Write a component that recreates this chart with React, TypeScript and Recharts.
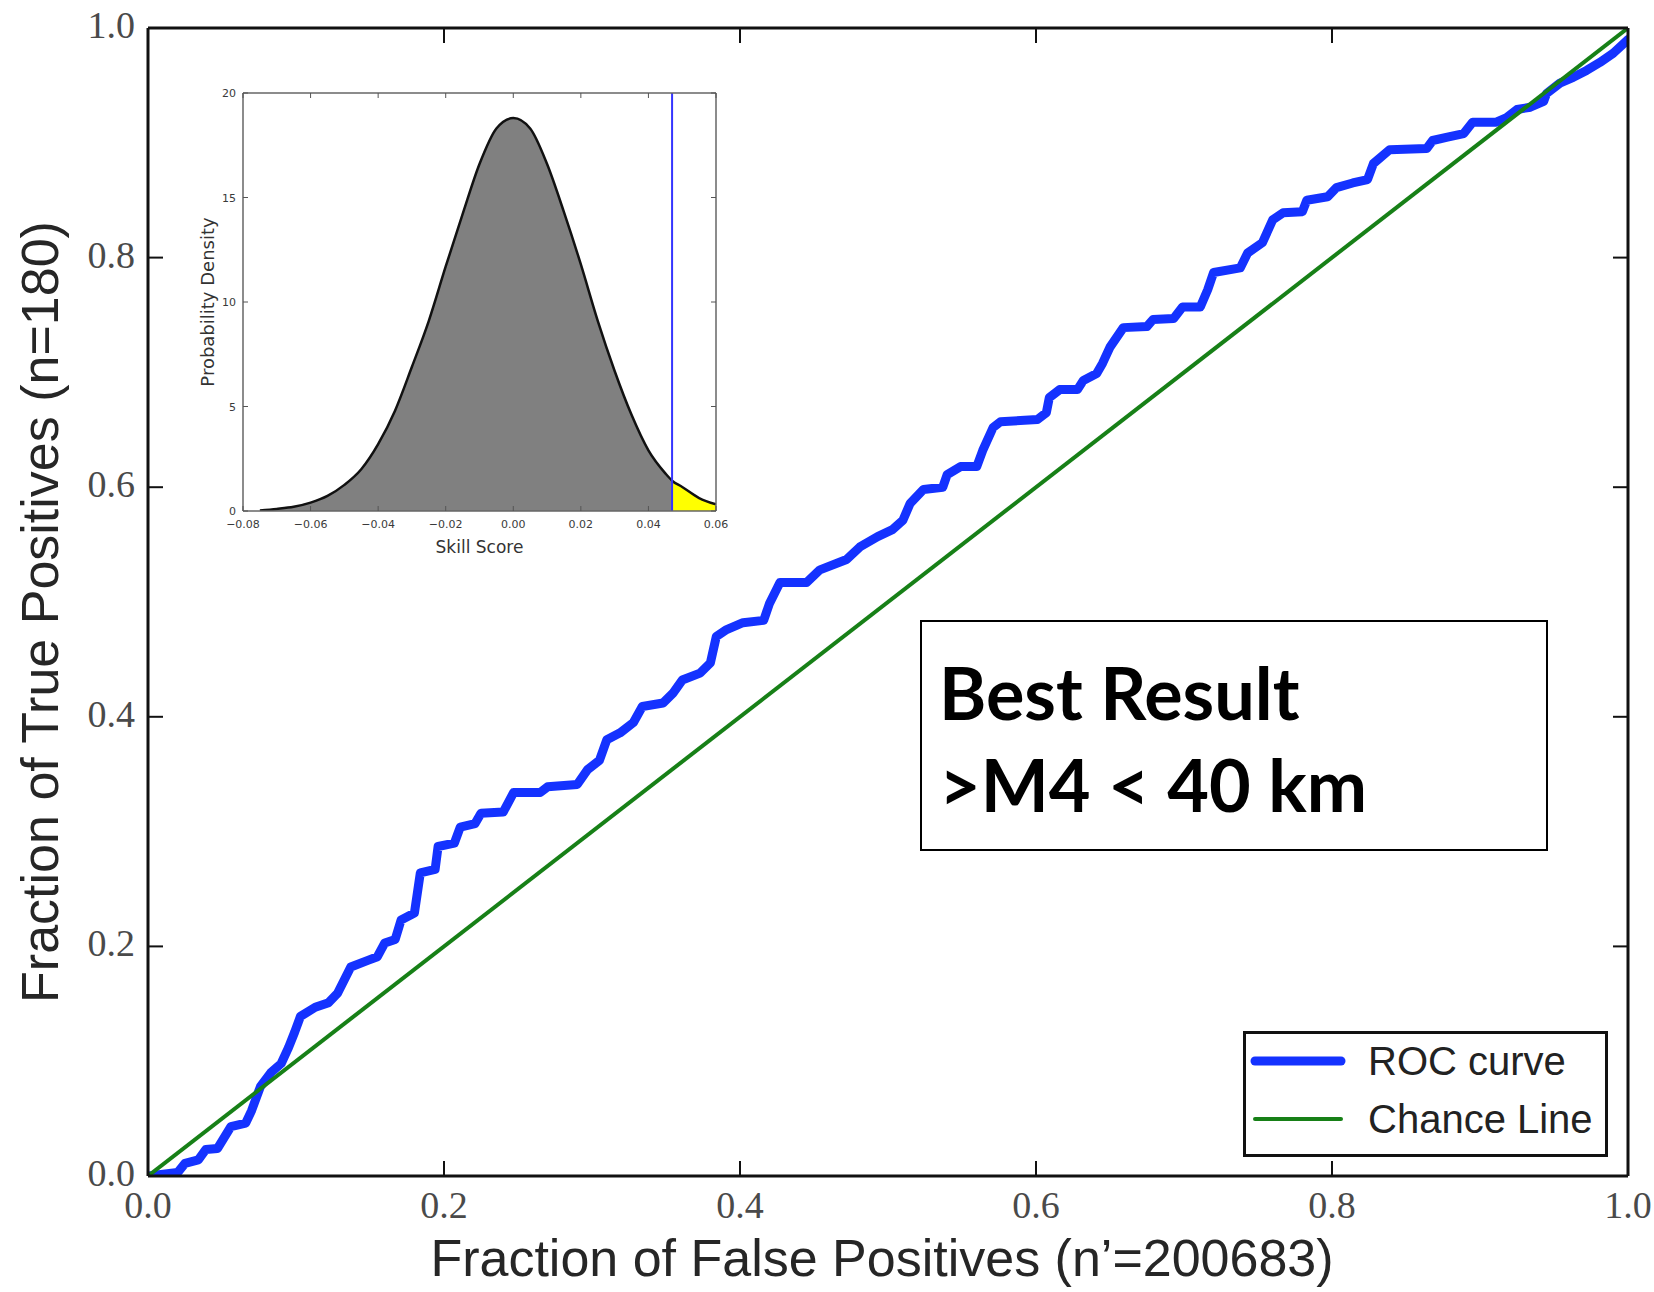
import React from 'react';
import { ComposedChart, Line, Area, XAxis, YAxis, Legend, ReferenceLine } from 'recharts';

const SERIF = '"Liberation Serif", "Times New Roman", serif';
const SANS = '"Liberation Sans", Arial, sans-serif';
const INSET_FONT = '"DejaVu Sans", "Liberation Sans", sans-serif';

// ---------- main ROC chart data ----------
const axisTicks = [0, 0.2, 0.4, 0.6, 0.8, 1.0];

const rocFpr = [
  0, 0.020, 0.025, 0.034, 0.039, 0.047, 0.056, 0.066, 0.070, 0.076,
  0.083, 0.090, 0.095, 0.099, 0.103, 0.113, 0.122, 0.128, 0.137, 0.149,
  0.155, 0.160, 0.167, 0.171, 0.180, 0.184, 0.194, 0.196, 0.207, 0.211,
  0.221, 0.225, 0.240, 0.247, 0.265, 0.270, 0.290, 0.297, 0.305, 0.310,
  0.319, 0.328, 0.334, 0.348, 0.355, 0.361, 0.373, 0.380, 0.384, 0.391,
  0.402, 0.416, 0.420, 0.427, 0.445, 0.454, 0.472, 0.481, 0.493, 0.503,
  0.510, 0.515, 0.524, 0.537, 0.540, 0.549, 0.560, 0.564, 0.571, 0.576,
  0.601, 0.607, 0.609, 0.616, 0.628, 0.632, 0.641, 0.645, 0.650, 0.659,
  0.675, 0.679, 0.693, 0.699, 0.711, 0.716, 0.720, 0.738, 0.743, 0.753,
  0.760, 0.767, 0.780, 0.783, 0.797, 0.803, 0.814, 0.824, 0.828, 0.839,
  0.864, 0.868, 0.878, 0.889, 0.895, 0.911, 0.918, 0.925, 0.934, 0.943,
  0.945, 0.954, 0.963, 0.972, 0.981, 0.990, 1.0,
];

const rocTpr = [
  0, 0.003, 0.011, 0.014, 0.023, 0.024, 0.043, 0.046, 0.057, 0.078,
  0.090, 0.098, 0.112, 0.125, 0.139, 0.147, 0.151, 0.159, 0.182, 0.188,
  0.191, 0.203, 0.206, 0.223, 0.229, 0.264, 0.267, 0.287, 0.290, 0.304,
  0.307, 0.316, 0.317, 0.334, 0.334, 0.339, 0.341, 0.354, 0.362, 0.380,
  0.386, 0.395, 0.409, 0.412, 0.421, 0.432, 0.438, 0.447, 0.470, 0.476,
  0.482, 0.484, 0.499, 0.517, 0.517, 0.528, 0.537, 0.548, 0.557, 0.563,
  0.571, 0.586, 0.598, 0.600, 0.611, 0.618, 0.618, 0.632, 0.652, 0.657,
  0.659, 0.665, 0.678, 0.685, 0.685, 0.693, 0.699, 0.708, 0.722, 0.739,
  0.740, 0.746, 0.747, 0.757, 0.757, 0.772, 0.787, 0.791, 0.804, 0.813,
  0.833, 0.839, 0.840, 0.850, 0.853, 0.861, 0.865, 0.868, 0.882, 0.894,
  0.895, 0.902, 0.905, 0.908, 0.918, 0.918, 0.922, 0.929, 0.931, 0.936,
  0.943, 0.952, 0.957, 0.963, 0.970, 0.978, 0.990,
];

const chanceFpr = [0, 1];
const chanceTpr = [0, 1];

const seriesNames = ['ROC curve', 'Chance Line'];
const seriesColors = ['#1432ff', '#178017'];
const seriesWidths = [9, 4];

const xTitle = "Fraction of False Positives (n\u2019=200683)";
const yTitle = 'Fraction of True Positives (n=180)';
const boxLines = ['Best Result', '>M4 < 40 km'];

// ---------- inset data ----------
const skillScores = [
  -0.075, -0.07, -0.065, -0.06, -0.055, -0.05, -0.045, -0.04, -0.035, -0.03,
  -0.025, -0.02, -0.015, -0.01, -0.005, 0, 0.005, 0.01, 0.015, 0.02,
  0.025, 0.03, 0.035, 0.04, 0.045, 0.047, 0.05, 0.055, 0.06,
];
const densities = [
  0.03, 0.1, 0.2, 0.4, 0.72, 1.25, 2.0, 3.2, 4.8, 6.9,
  9.1, 11.7, 14.2, 16.6, 18.3, 18.8, 18.3, 16.6, 14.3, 11.8,
  9.1, 6.7, 4.6, 2.9, 1.8, 1.45, 1.15, 0.62, 0.32,
];
const observedSkill = 0.047;
const insetXTicks = [-0.08, -0.06, -0.04, -0.02, 0, 0.02, 0.04, 0.06];
const insetYTicks = [0, 5, 10, 15, 20];

const rocData = rocFpr.map((x, i) => ({ x, y: rocTpr[i] }));
const chanceData = chanceFpr.map((x, i) => ({ x, y: chanceTpr[i] }));
const densityData = skillScores.map((x, i) => ({ x, y: densities[i] }));
const nullData = densityData.filter((d) => d.x <= observedSkill);
const tailData = densityData.filter((d) => d.x >= observedSkill);

// ---------- main ticks ----------
const TICK_LEN = 15;
const tickLabelStyle = { fontFamily: SERIF, fontSize: 38, fill: '#4a4a4a' };

function BottomTick(props: any) {
  const { x, y, payload } = props;
  return (
    <g>
      <line x1={x} x2={x} y1={y} y2={y - TICK_LEN} stroke="#111" strokeWidth={2} />
      <text x={x} y={y + 42} textAnchor="middle" {...tickLabelStyle}>
        {Number(payload.value).toFixed(1)}
      </text>
    </g>
  );
}
function TopTick(props: any) {
  const { x, y } = props;
  return <line x1={x} x2={x} y1={y} y2={y + TICK_LEN} stroke="#111" strokeWidth={2} />;
}
function LeftTick(props: any) {
  const { x, y, payload } = props;
  return (
    <g>
      <line x1={x} x2={x + TICK_LEN} y1={y} y2={y} stroke="#111" strokeWidth={2} />
      <text x={x - 13} y={y + 10} textAnchor="end" {...tickLabelStyle}>
        {Number(payload.value).toFixed(1)}
      </text>
    </g>
  );
}
function RightTick(props: any) {
  const { x, y } = props;
  return <line x1={x} x2={x - TICK_LEN} y1={y} y2={y} stroke="#111" strokeWidth={2} />;
}

// ---------- inset ticks ----------
const INSET_TICK = 5;
const insetLabelStyle = { fontFamily: INSET_FONT, fontSize: 11, fill: '#3a3a3a' };
const fmtSkill = (v: number) => (v < 0 ? '\u2212' + Math.abs(v).toFixed(2) : v.toFixed(2));

function InsetBottomTick(props: any) {
  const { x, y, payload } = props;
  return (
    <g>
      <line x1={x} x2={x} y1={y} y2={y - INSET_TICK} stroke="#555" strokeWidth={1} />
      <text x={x} y={y + 17} textAnchor="middle" {...insetLabelStyle}>
        {fmtSkill(Number(payload.value))}
      </text>
    </g>
  );
}
function InsetTopTick(props: any) {
  const { x, y } = props;
  return <line x1={x} x2={x} y1={y} y2={y + INSET_TICK} stroke="#555" strokeWidth={1} />;
}
function InsetLeftTick(props: any) {
  const { x, y, payload } = props;
  return (
    <g>
      <line x1={x} x2={x + INSET_TICK} y1={y} y2={y} stroke="#555" strokeWidth={1} />
      <text x={x - 7} y={y + 4} textAnchor="end" {...insetLabelStyle}>
        {String(payload.value)}
      </text>
    </g>
  );
}
function InsetRightTick(props: any) {
  const { x, y } = props;
  return <line x1={x} x2={x - INSET_TICK} y1={y} y2={y} stroke="#555" strokeWidth={1} />;
}

// ---------- legend ----------
function renderLegend(props: any) {
  const items = [...(props.payload || [])].sort(
    (a: any, b: any) => seriesNames.indexOf(a.value) - seriesNames.indexOf(b.value)
  );
  return (
    <div
      style={{
        width: 365,
        height: 126,
        border: '3px solid #111',
        boxSizing: 'border-box',
        background: '#fff',
      }}
    >
      <svg width={359} height={120} style={{ display: 'block' }}>
        {items.map((it: any, i: number) => {
          const idx = seriesNames.indexOf(it.value);
          const cy = 27 + i * 58;
          return (
            <g key={it.value}>
              <line
                x1={9}
                x2={95}
                y1={cy}
                y2={cy}
                stroke={it.color}
                strokeWidth={seriesWidths[idx]}
                strokeLinecap="round"
              />
              <text x={122} y={cy + 14} fontFamily={SANS} fontSize={40} fill="#222">
                {it.value}
              </text>
            </g>
          );
        })}
      </svg>
    </div>
  );
}

const frameLine = { stroke: '#111', strokeWidth: 3 };
const insetFrame = { stroke: '#666', strokeWidth: 1.5 };

function InsetChart() {
  return (
    <div style={{ position: 'absolute', left: 180, top: 70, width: 556, height: 500 }}>
      <ComposedChart width={556} height={500} margin={{ top: 22, right: 19, bottom: 58, left: 62 }}>
        <XAxis
          dataKey="x"
          type="number"
          domain={[-0.08, 0.06]}
          ticks={insetXTicks}
          interval={0}
          allowDataOverflow
          height={1}
          tickSize={0}
          tickMargin={0}
          tickLine={false}
          axisLine={insetFrame}
          tick={InsetBottomTick}
          label={{
            value: 'Skill Score',
            content: (p: any) => {
              const vb = p.viewBox || { x: 63, y: 441, width: 473 };
              return (
                <text
                  x={vb.x + vb.width / 2}
                  y={vb.y + 42}
                  textAnchor="middle"
                  fontFamily={INSET_FONT}
                  fontSize={17}
                  fill="#333"
                >
                  Skill Score
                </text>
              );
            },
          }}
        />
        <XAxis
          xAxisId="top"
          orientation="top"
          dataKey="x"
          type="number"
          domain={[-0.08, 0.06]}
          ticks={insetXTicks}
          interval={0}
          allowDataOverflow
          height={1}
          tickSize={0}
          tickMargin={0}
          tickLine={false}
          axisLine={insetFrame}
          tick={InsetTopTick}
        />
        <YAxis
          type="number"
          domain={[0, 20]}
          ticks={insetYTicks}
          interval={0}
          allowDataOverflow
          width={1}
          tickSize={0}
          tickMargin={0}
          tickLine={false}
          axisLine={insetFrame}
          tick={InsetLeftTick}
          label={{
            value: 'Probability Density',
            content: (p: any) => {
              const vb = p.viewBox || { x: 62, y: 23, width: 1, height: 418 };
              const cx = vb.x + (vb.width || 0) - 29;
              const cy = vb.y + vb.height / 2;
              return (
                <text
                  x={cx}
                  y={cy}
                  transform={`rotate(-90 ${cx} ${cy})`}
                  textAnchor="middle"
                  fontFamily={INSET_FONT}
                  fontSize={18}
                  fill="#333"
                >
                  Probability Density
                </text>
              );
            },
          }}
        />
        <YAxis
          yAxisId="right"
          orientation="right"
          type="number"
          domain={[0, 20]}
          ticks={insetYTicks}
          interval={0}
          allowDataOverflow
          width={1}
          tickSize={0}
          tickMargin={0}
          tickLine={false}
          axisLine={insetFrame}
          tick={InsetRightTick}
        />
        <Area
          data={nullData}
          dataKey="y"
          type="monotone"
          fill="#808080"
          fillOpacity={1}
          stroke="none"
          isAnimationActive={false}
          dot={false}
          activeDot={false}
        />
        <Area
          data={tailData}
          dataKey="y"
          type="monotone"
          fill="#ffff00"
          fillOpacity={1}
          stroke="none"
          isAnimationActive={false}
          dot={false}
          activeDot={false}
        />
        <Line
          data={densityData}
          dataKey="y"
          xAxisId="top"
          yAxisId="right"
          type="monotone"
          stroke="#111"
          strokeWidth={2.5}
          dot={false}
          activeDot={false}
          isAnimationActive={false}
        />
        <ReferenceLine x={observedSkill} stroke="#3535ff" strokeWidth={2} ifOverflow="visible" />
      </ComposedChart>
    </div>
  );
}

function TextBox() {
  return (
    <div
      style={{
        position: 'absolute',
        left: 920,
        top: 620,
        width: 628,
        height: 231,
        border: '2px solid #000',
        boxSizing: 'border-box',
        background: '#fff',
      }}
    >
      <svg width={624} height={227} style={{ display: 'block' }}>
        {boxLines.map((t, i) => (
          <text
            key={t}
            x={17}
            y={98 + i * 92}
            fontFamily="Lato, 'Open Sans', sans-serif"
            fontWeight={700}
            fontSize={72}
            fill="#000"
          >
            {t}
          </text>
        ))}
      </svg>
    </div>
  );
}

export default function App() {
  return (
    <div style={{ position: 'absolute', left: 0, top: 0, width: 1654, height: 1292, background: '#fff' }}>
      <ComposedChart width={1654} height={1292} margin={{ top: 27, right: 25, bottom: 115, left: 147 }}>
        <XAxis
          dataKey="x"
          type="number"
          domain={[0, 1]}
          ticks={axisTicks}
          interval={0}
          allowDataOverflow
          height={1}
          tickSize={0}
          tickMargin={0}
          tickLine={false}
          axisLine={frameLine}
          tick={BottomTick}
          label={{
            value: xTitle,
            content: (p: any) => {
              const vb = p.viewBox || { x: 148, y: 1176, width: 1480 };
              return (
                <text
                  x={vb.x + vb.width / 2 - 6}
                  y={vb.y + 100}
                  textAnchor="middle"
                  fontFamily={SANS}
                  fontSize={52}
                  fill="#262626"
                >
                  {xTitle}
                </text>
              );
            },
          }}
        />
        <XAxis
          xAxisId="top"
          orientation="top"
          dataKey="x"
          type="number"
          domain={[0, 1]}
          ticks={axisTicks}
          interval={0}
          allowDataOverflow
          height={1}
          tickSize={0}
          tickMargin={0}
          tickLine={false}
          axisLine={frameLine}
          tick={TopTick}
        />
        <YAxis
          type="number"
          domain={[0, 1]}
          ticks={axisTicks}
          interval={0}
          allowDataOverflow
          width={1}
          tickSize={0}
          tickMargin={0}
          tickLine={false}
          axisLine={frameLine}
          tick={LeftTick}
          label={{
            value: yTitle,
            content: (p: any) => {
              const vb = p.viewBox || { x: 147, y: 28, width: 1, height: 1148 };
              const cx = vb.x + (vb.width || 0) - 90;
              const cy = vb.y + vb.height / 2 + 10;
              return (
                <text
                  x={cx}
                  y={cy}
                  transform={`rotate(-90 ${cx} ${cy})`}
                  textAnchor="middle"
                  fontFamily={SANS}
                  fontSize={52}
                  fill="#262626"
                >
                  {yTitle}
                </text>
              );
            },
          }}
        />
        <YAxis
          yAxisId="right"
          orientation="right"
          type="number"
          domain={[0, 1]}
          ticks={axisTicks}
          interval={0}
          allowDataOverflow
          width={1}
          tickSize={0}
          tickMargin={0}
          tickLine={false}
          axisLine={frameLine}
          tick={RightTick}
        />
        <Line
          data={rocData}
          dataKey="y"
          name={seriesNames[0]}
          type="linear"
          stroke={seriesColors[0]}
          strokeWidth={seriesWidths[0]}
          strokeLinejoin="round"
          strokeLinecap="round"
          dot={false}
          activeDot={false}
          isAnimationActive={false}
        />
        <Line
          data={chanceData}
          dataKey="y"
          name={seriesNames[1]}
          xAxisId="top"
          yAxisId="right"
          type="linear"
          stroke={seriesColors[1]}
          strokeWidth={seriesWidths[1]}
          dot={false}
          activeDot={false}
          isAnimationActive={false}
        />
        <Legend
          layout="vertical"
          align="center"
          verticalAlign="middle"
          content={renderLegend}
          wrapperStyle={{ left: 1243, top: 1031, width: 365, height: 126 }}
        />
      </ComposedChart>
      <InsetChart />
      <TextBox />
    </div>
  );
}
